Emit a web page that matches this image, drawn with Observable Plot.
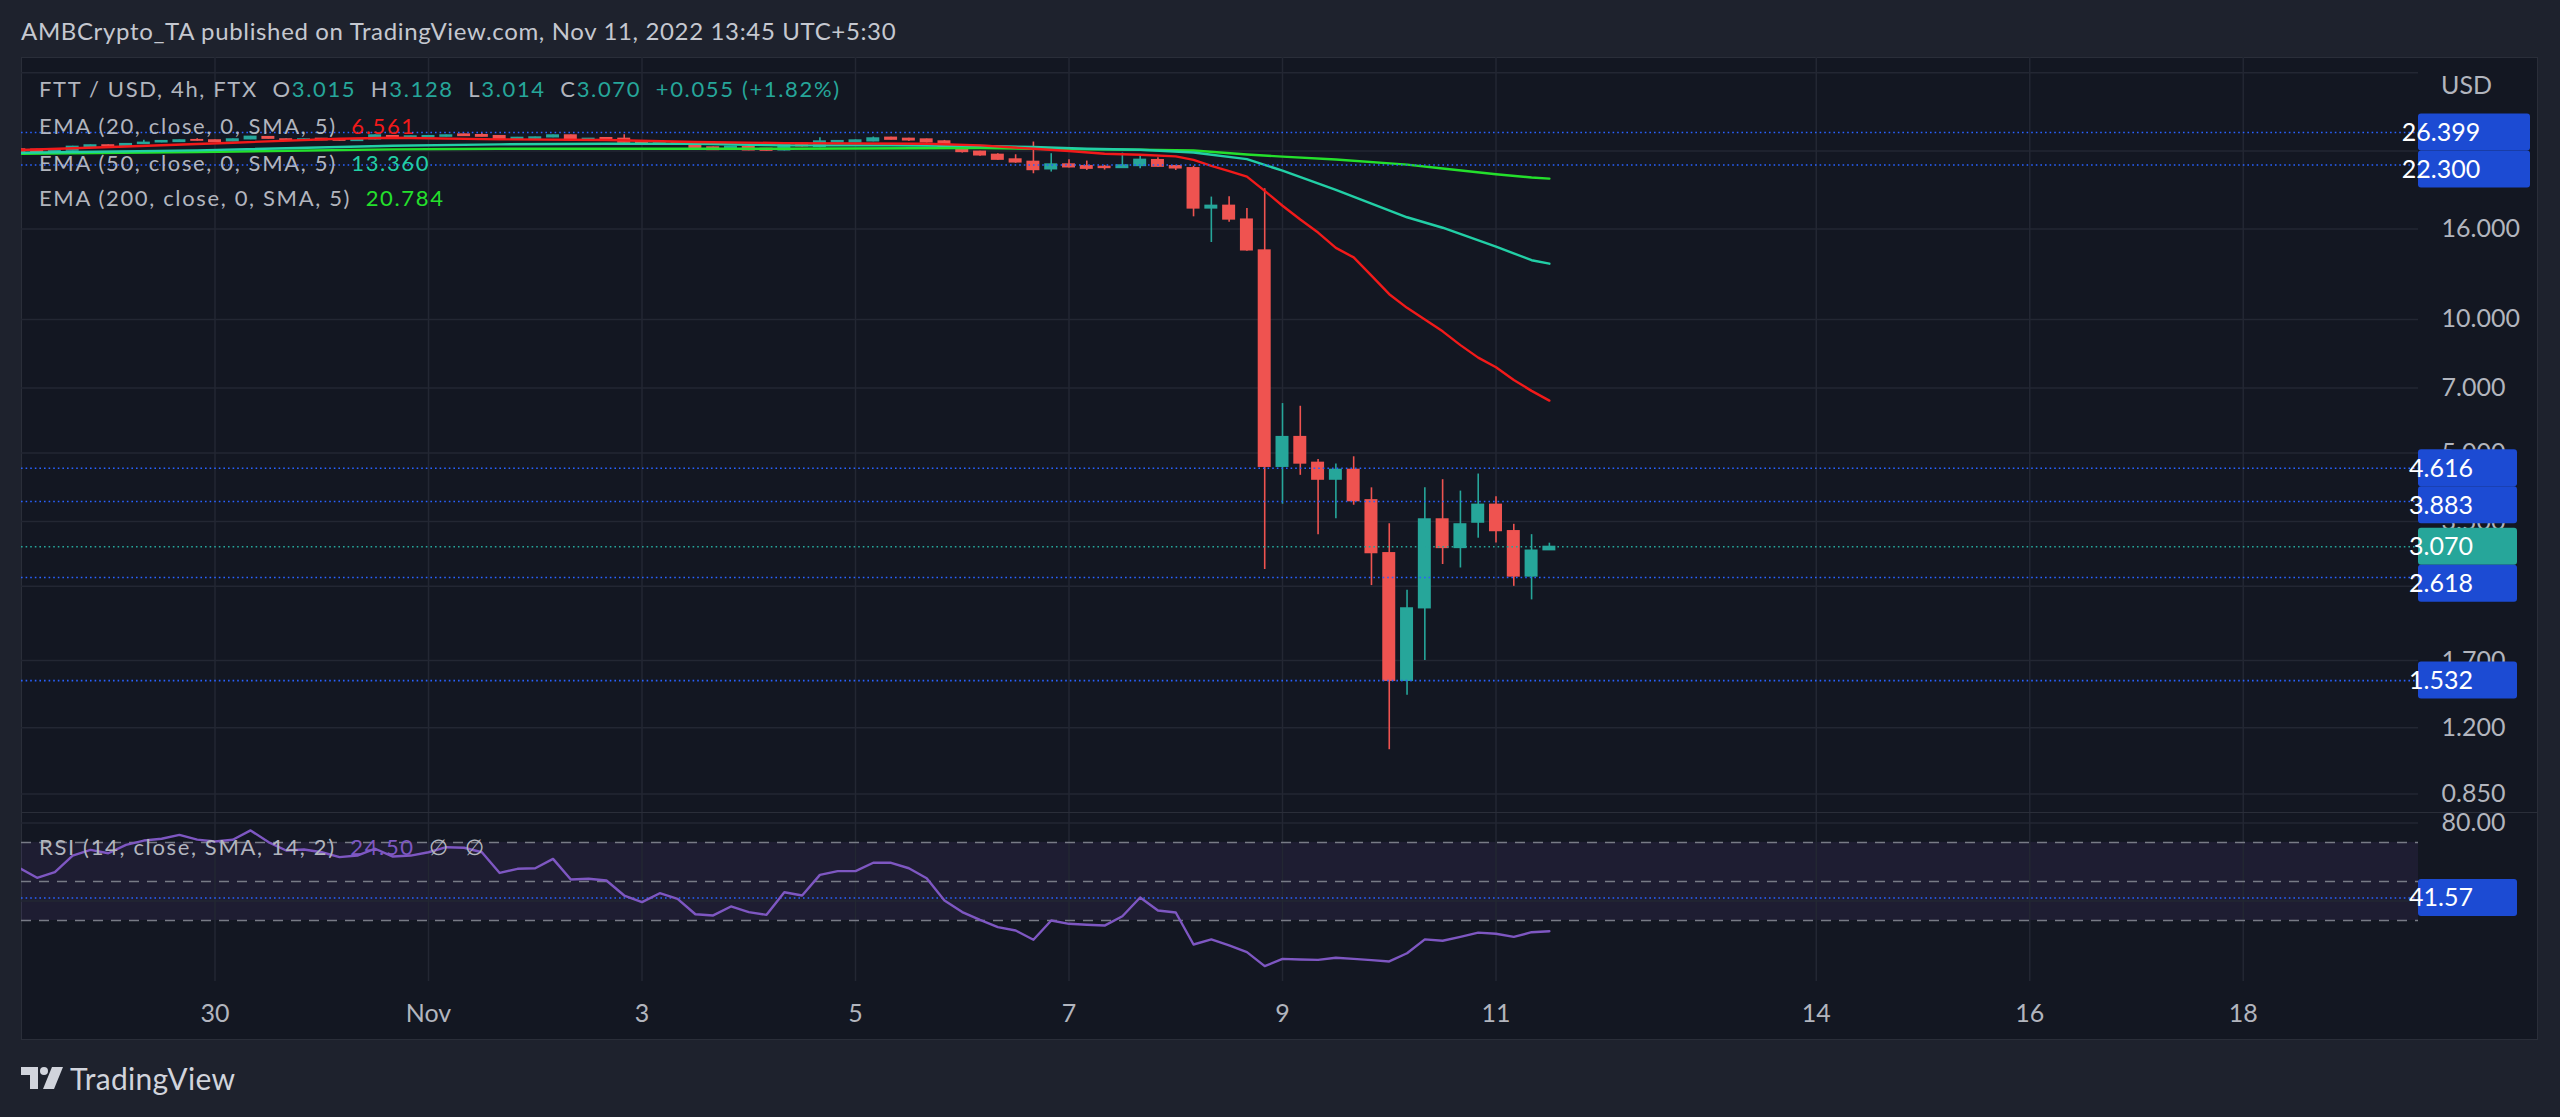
<!DOCTYPE html>
<html>
<head>
<meta charset="utf-8">
<script src="https://cdn.jsdelivr.net/npm/d3@7"></script>
<script src="https://cdn.jsdelivr.net/npm/@observablehq/plot@0.6"></script>
<style>
  html, body { margin: 0; padding: 0; background: #1e222d; width: 2560px; height: 1117px; overflow: hidden; }
  body { position: relative; font-family: Lato, "Liberation Sans", sans-serif; }
  .abs { position: absolute; white-space: pre; line-height: 1; }
  #frame { position: absolute; left: 21px; top: 57px; width: 2517px; height: 983px; background: #131722; box-sizing: border-box; border: 1px solid #2a2e39; }
  #sep { position: absolute; left: 21px; top: 812px; width: 2517px; height: 1px; background: #2a2e39; }
  #price { position: absolute; left: 21px; top: 57px; }
  #rsi { position: absolute; left: 21px; top: 813px; }
  #title { left: 21px; top: 19px; font-size: 24px; color: #c5c8d0; letter-spacing: 0.65px; }
  .leg { left: 39px; font-size: 22px; color: #b2b5be; letter-spacing: 1.65px; }
  .t { color: #26a69a; }
  #usd { left: 2441px; top: 72px; font-size: 25px; color: #b2b5be; }
  #brand { left: 70px; top: 1063px; font-size: 30px; color: #d1d4dc; letter-spacing: 0.3px; }
</style>
</head>
<body>
<div id="frame"></div>
<div id="price"></div>
<div id="rsi"></div>
<div id="sep"></div>
<div id="title" class="abs">AMBCrypto_TA published on TradingView.com, Nov 11, 2022 13:45 UTC+5:30</div>
<div class="abs leg" style="top:78px">FTT / USD, 4h, FTX  O<span class="t">3.015</span>  H<span class="t">3.128</span>  L<span class="t">3.014</span>  C<span class="t">3.070</span>  <span class="t">+0.055 (+1.82%)</span></div>
<div class="abs leg" style="top:115px">EMA (20, close, 0, SMA, 5)  <span style="color:#f21a1a">6.561</span></div>
<div class="abs leg" style="top:152px">EMA (50, close, 0, SMA, 5)  <span style="color:#22cfa6">13.360</span></div>
<div class="abs leg" style="top:187px">EMA (200, close, 0, SMA, 5)  <span style="color:#24e02c">20.784</span></div>
<div class="abs leg" style="top:836px">RSI (14, close, SMA, 14, 2)  <span style="color:#7e57c2">24.50</span>  ∅  ∅</div>
<div id="usd" class="abs">USD</div>
<svg class="abs" style="left:21px;top:1067px" width="42" height="22" viewBox="0 0 42 22">
  <path d="M0 0H17V22H9V8H0Z" fill="#d1d4dc"/>
  <circle cx="23" cy="4" r="4" fill="#d1d4dc"/>
  <path d="M31 0H42L33 22H22Z" fill="#d1d4dc"/>
</svg>
<div id="brand" class="abs">TradingView</div>
<script>
// ---------- data ----------
const firstCandleTime = Date.UTC(2022, 9, 28, 4); // Oct 28 04:00, 4h candles
const candleStepHours = 4;

const candleOpen = [24.19,24.15,23.85,24.02,24.44,24.70,24.61,24.87,25.08,25.13,
  25.39,25.35,25.21,25.48,25.79,25.48,25.30,25.56,25.48,25.26,
  25.48,25.92,25.69,25.74,25.83,26.14,26.05,25.92,25.44,25.56,
  25.74,26.01,25.30,25.65,25.56,25.13,24.78,25.04,24.91,24.44,
  24.19,24.48,24.27,24.06,24.91,24.48,25.08,25.08,25.21,25.70,
  25.56,25.47,25.21,24.40,23.90,23.52,22.96,22.68,21.80,22.37,
  22.18,22.10,21.95,22.18,22.88,22.18,21.94,17.79,18.05,16.80,
  14.31,4.65,5.43,4.75,4.35,4.58,3.91,2.97,1.53,2.23,
  3.54,3.05,3.48,3.82,3.33,2.63,3.015];
const candleHigh = [24.26,24.20,24.10,24.58,24.75,24.76,24.92,25.35,25.30,25.40,
  25.56,25.40,25.52,25.88,25.85,25.53,25.52,25.60,25.52,25.52,
  26.06,25.97,25.92,25.96,26.06,26.19,26.25,25.97,25.74,25.78,
  26.06,26.06,25.60,25.70,26.10,25.17,25.08,25.08,24.95,24.48,
  24.56,24.52,24.31,24.90,25.00,25.70,25.32,25.40,25.79,25.76,
  25.62,25.52,25.34,24.45,23.95,23.65,23.52,25.13,23.65,22.92,
  22.76,22.26,23.73,23.32,23.16,22.25,22.16,18.88,18.92,17.79,
  19.71,6.46,6.37,4.83,4.72,4.90,4.17,3.46,2.45,4.17,
  4.35,4.10,4.48,3.98,3.45,3.27,3.128];
const candleLow = [23.86,23.80,23.80,23.98,24.40,24.56,24.58,24.83,25.03,25.09,
  25.26,25.09,25.17,25.44,25.52,25.26,25.26,25.31,25.26,25.22,
  25.44,25.52,25.65,25.70,25.79,25.88,25.79,25.44,25.40,25.52,
  25.70,25.31,25.26,25.26,25.00,24.74,24.74,24.74,24.23,24.06,
  24.15,24.02,23.98,24.00,24.50,24.40,25.02,25.02,25.15,25.38,
  25.20,25.00,24.30,23.73,23.35,22.85,22.50,21.31,21.50,21.95,
  21.68,21.72,21.90,21.87,22.05,21.68,17.04,14.91,16.56,14.25,
  2.73,3.83,4.45,3.27,3.55,3.81,2.51,1.07,1.42,1.70,
  2.80,2.75,3.21,3.13,2.50,2.33,3.014];
const candleClose = [23.90,23.85,24.06,24.52,24.70,24.61,24.87,25.04,25.26,25.35,
  25.30,25.13,25.48,25.83,25.56,25.30,25.48,25.35,25.30,25.48,
  26.01,25.56,25.88,25.92,26.01,25.92,25.83,25.48,25.69,25.74,
  26.01,25.35,25.56,25.30,25.04,24.78,25.04,24.78,24.27,24.10,
  24.52,24.06,24.02,24.82,24.57,25.21,25.26,25.34,25.61,25.43,
  25.34,25.08,24.40,23.85,23.44,22.92,22.60,21.72,22.37,22.03,
  21.87,21.95,22.26,22.92,22.10,21.91,17.79,18.05,16.80,14.31,
  4.65,5.43,4.73,4.35,4.58,3.89,2.97,1.53,2.23,3.54,
  3.05,3.45,3.82,3.33,2.63,3.01,3.070];

// EMA read points (candle index, value)
const ema20Index = [0,6,12,18,21,27,33,38,43,51,54,57,59,61,63,65,66,67,68,69,70,71,72,73,74,75,76,77,78,79,80,81,82,83,84,85,86];
const ema20Value = [24.10,24.56,25.04,25.56,25.70,25.48,25.39,25.13,24.99,24.91,24.70,24.27,23.98,23.65,23.52,23.32,22.90,22.20,21.60,21.00,19.50,18.05,16.80,15.70,14.50,13.80,12.55,11.40,10.62,10.00,9.40,8.75,8.20,7.80,7.30,6.90,6.56];
const ema50Index = [0,10,21,27,33,38,43,49,54,57,60,63,66,69,71,74,76,78,80,83,85,86];
const ema50Value = [23.77,24.06,24.65,24.83,24.91,24.91,24.70,24.70,24.61,24.48,24.27,24.14,23.80,23.00,21.65,19.60,18.25,17.00,16.10,14.60,13.60,13.36];
const ema200Index = [0,10,21,27,43,54,57,63,66,69,71,74,78,80,83,85,86];
const ema200Value = [23.65,23.85,24.19,24.27,24.27,24.36,24.27,24.14,24.05,23.55,23.30,22.95,22.35,21.90,21.25,20.90,20.78];

const rsiValues = [57.0,51.9,54.8,63.3,66.2,64.5,68.8,71.0,71.9,73.9,
  71.5,70.5,71.4,76.2,70.2,65.9,66.4,65.0,62.5,63.3,
  66.8,62.8,63.3,65.0,67.6,67.3,65.0,54.4,56.5,56.8,
  61.6,51.0,51.4,50.5,42.8,39.4,44.0,41.1,33.2,32.6,
  37.2,34.3,32.9,44.5,42.8,53.4,55.3,55.3,59.6,59.6,
  56.8,51.7,40.3,34.3,30.3,26.6,24.9,20.1,30.0,28.3,
  27.8,27.4,32.2,41.8,35.1,34.1,17.7,20.3,17.2,13.8,
  6.6,10.3,10.0,9.8,10.9,10.3,9.7,9.0,13.2,20.3,
  19.6,21.6,23.8,23.2,21.6,24.0,24.5];

const priceLevels = [26.399, 22.300, 4.616, 3.883, 2.618, 1.532];
const lastPrice = 3.070;
const rsiLevel = 41.57;
const rsiGuides = [70, 50, 30];
const rsiBand = [30, 70];
const rsiTicks = [80];
const rsiGrid = [80, 40];

const priceTicks = [16, 10, 7, 5, 3.5, 1.7, 1.2, 0.85];
const priceGrid = [36, 24, 16, 10, 7, 5, 3.5, 2.5, 1.7, 1.2, 0.85];

const xTickDays = ["2022-10-30","2022-11-01","2022-11-03","2022-11-05","2022-11-07","2022-11-09","2022-11-11","2022-11-14","2022-11-16","2022-11-18"];
const xTickLabels = ["30","Nov","3","5","7","9","11","14","16","18"];

// ---------- view settings ----------
const DAY = 864e5;
const xOrigin = Date.UTC(2022, 9, 31);
const xDomain = [new Date(xOrigin - 2.8127 * DAY), new Date(xOrigin + 19.6417 * DAY)];
const priceDomain = [0.7683, 38.98];
const rsiDomain = [-1.28, 84.87];
const UP = "#26a69a", DOWN = "#ef5350", BLUE = "#2962ff", BOXBLUE = "#1c4bd3";
const GRID = "#232733";

const candleDate = i => new Date(firstCandleTime + i * candleStepHours * 3600e3);
const candles = candleOpen.map((o, i) => ({
  date: candleDate(i), open: o, high: candleHigh[i], low: candleLow[i], close: candleClose[i],
  color: candleClose[i] >= o ? UP : DOWN
}));
const half = candleStepHours * 1800e3;
const emaSeries = (idx, val) => idx.map((k, j) => ({date: candleDate(k), value: val[j]}));
const ema20 = emaSeries(ema20Index, ema20Value);
const ema50 = emaSeries(ema50Index, ema50Value);
const ema200 = emaSeries(ema200Index, ema200Value);
const rsi = rsiValues.map((v, i) => ({date: candleDate(i), value: v}));
const xTicks = xTickDays.map(s => new Date(s + "T00:00:00Z"));
const tickLabel = d => xTickLabels[xTicks.findIndex(t => +t === +d)];

const baseStyle = {background: "transparent", color: "#b2b5be", fontFamily: "Lato, 'Liberation Sans', sans-serif", fontSize: "25px", overflow: "visible"};

const price = Plot.plot({
  width: 2517, height: 756,
  marginLeft: 0, marginRight: 120, marginTop: 0, marginBottom: 0,
  style: baseStyle,
  x: {type: "utc", domain: xDomain, axis: null},
  y: {type: "log", domain: priceDomain, axis: null},
  marks: [
    Plot.gridY(priceGrid, {stroke: GRID, strokeOpacity: 1, strokeWidth: 1.5}),
    Plot.gridX(xTicks, {stroke: GRID, strokeOpacity: 1, strokeWidth: 1.5}),
    Plot.ruleX(candles, {x: "date", y1: "low", y2: "high", stroke: "color", strokeWidth: 1.6, clip: true}),
    Plot.rect(candles, {x1: d => new Date(+d.date - half), x2: d => new Date(+d.date + half), y1: "open", y2: "close",
      fill: "color", insetLeft: 2.4, insetRight: 2.4, insetTop: -0.6, insetBottom: -0.6, clip: true}),
    Plot.line(ema200, {x: "date", y: "value", stroke: "#24e02c", strokeWidth: 2.4, clip: true}),
    Plot.line(ema50, {x: "date", y: "value", stroke: "#22cfa6", strokeWidth: 2.4, clip: true}),
    Plot.line(ema20, {x: "date", y: "value", stroke: "#f21a1a", strokeWidth: 2.4, clip: true}),
    Plot.ruleY(priceLevels, {stroke: BLUE, strokeWidth: 1.6, strokeDasharray: "1.6,3"}),
    Plot.ruleY([lastPrice], {stroke: UP, strokeWidth: 1.6, strokeDasharray: "1.6,3"}),
    Plot.axisY(priceTicks, {anchor: "right", label: null, tickSize: 0, tickPadding: 23, tickFormat: d3.format(".3f")})
  ]
});
document.getElementById("price").appendChild(price);

const rsiChart = Plot.plot({
  width: 2517, height: 227,
  marginLeft: 0, marginRight: 120, marginTop: 0, marginBottom: 59,
  style: baseStyle,
  x: {type: "utc", domain: xDomain, axis: null},
  y: {domain: rsiDomain, axis: null},
  marks: [
    Plot.rect([rsiBand], {x1: () => xDomain[0], x2: () => xDomain[1], y1: d => d[0], y2: d => d[1], fill: "#7e57c2", fillOpacity: 0.1}),
    Plot.gridY(rsiGrid, {stroke: GRID, strokeOpacity: 1, strokeWidth: 1.5}),
    Plot.gridX(xTicks, {stroke: GRID, strokeOpacity: 1, strokeWidth: 1.5}),
    Plot.ruleY(rsiGuides, {stroke: "#787b86", strokeWidth: 1.6, strokeDasharray: "10,8"}),
    Plot.ruleY([rsiLevel], {stroke: BLUE, strokeWidth: 1.6, strokeDasharray: "1.6,3"}),
    Plot.line(rsi, {x: "date", y: "value", stroke: "#7e57c2", strokeWidth: 2.4, clip: true}),
    Plot.axisY(rsiTicks, {anchor: "right", label: null, tickSize: 0, tickPadding: 23, tickFormat: d3.format(".2f")}),
    Plot.axisX(xTicks, {anchor: "bottom", label: null, tickSize: 0, tickPadding: 23, tickFormat: tickLabel, fontSize: 25})
  ]
});
document.getElementById("rsi").appendChild(rsiChart);

// price-scale labels (boxes) placed with the chart's own y scale
function addBoxes(chart, items, fmt) {
  const sy = chart.scale("y");
  const svg = d3.select(chart);
  const H = 37, x0 = 2397;
  const boxes = items.map(d => ({...d, text: fmt(d.value), cy: sy.apply(d.value)})).sort((a, b) => a.cy - b.cy);
  let prevBottom = -Infinity;
  for (const b of boxes) {
    let top = b.cy - H / 2;
    if (top < prevBottom) top = prevBottom;
    prevBottom = top + H;
    b.top = top;
  }
  const g = svg.append("g");
  g.selectAll("rect").data(boxes).join("rect")
    .attr("x", x0).attr("y", d => d.top).attr("width", d => 13 * d.text.length + 34).attr("height", H)
    .attr("rx", 3).attr("fill", d => d.color);
  g.selectAll("text").data(boxes).join("text")
    .attr("x", x0 + 23).attr("y", d => d.top + H / 2).attr("dy", "0.36em")
    .attr("fill", "#ffffff").attr("font-size", 25).text(d => d.text);
}
addBoxes(price, [
  ...priceLevels.map(v => ({value: v, color: BOXBLUE})),
  {value: lastPrice, color: UP}
], d3.format(".3f"));
addBoxes(rsiChart, [{value: rsiLevel, color: BOXBLUE}], d3.format(".2f"));
</script>
</body>
</html>
